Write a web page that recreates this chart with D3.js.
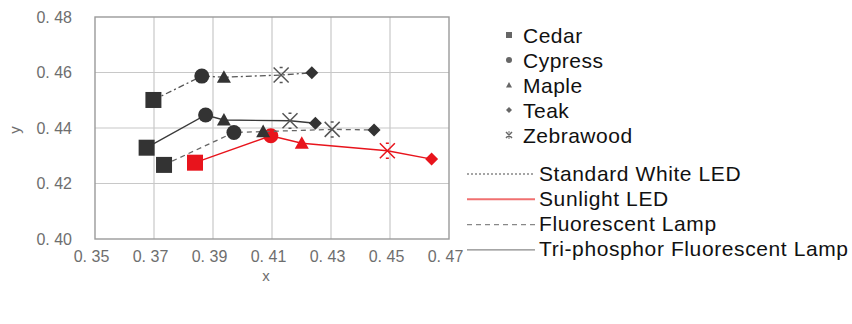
<!DOCTYPE html>
<html>
<head>
<meta charset="utf-8">
<script src="https://cdn.jsdelivr.net/npm/d3@7"></script>
<style>
  html, body { margin: 0; padding: 0; background: #fff; }
  svg { display: block; }
</style>
</head>
<body>
<svg id="chart" width="852" height="324"></svg>
<script>
// Wood species (one marker shape each)
const woods = ["Cedar", "Cypress", "Maple", "Teak", "Zebrawood"];
const woodShapes = ["square", "circle", "triangle", "diamond", "cross"];

// Light sources (one line style each)
const lights = ["Standard White LED", "Sunlight LED", "Fluorescent Lamp", "Tri-phosphor Fluorescent Lamp"];

// Chromaticity x, y per light source, in wood order (Cedar, Cypress, Maple, Teak, Zebrawood)
const standardX = [0.3698, 0.3862, 0.3937, 0.4235, 0.4131];
const standardY = [0.4501, 0.4587, 0.4583, 0.4599, 0.4591];
const sunlightX = [0.3839, 0.4096, 0.4201, 0.4641, 0.4491];
const sunlightY = [0.4275, 0.4372, 0.4345, 0.4288, 0.4318];
const fluorX    = [0.3734, 0.3971, 0.4070, 0.4446, 0.4304];
const fluorY    = [0.4267, 0.4384, 0.4387, 0.4393, 0.4395];
const triX      = [0.3675, 0.3875, 0.3937, 0.4247, 0.4161];
const triY      = [0.4329, 0.4447, 0.4429, 0.4417, 0.4426];

const xTicks = [0.35, 0.37, 0.39, 0.41, 0.43, 0.45, 0.47];
const yTicks = [0.40, 0.42, 0.44, 0.46, 0.48];

const seriesX = [standardX, sunlightX, fluorX, triX];
const seriesY = [standardY, sunlightY, fluorY, triY];
const lineStyles = [
  { color: "#555", width: 1.3, dash: "6,3,2,3", markerFill: "#333" },
  { color: "#e8141c", width: 1.4, dash: null, markerFill: "#e8141c" },
  { color: "#666", width: 1.3, dash: "5,4", markerFill: "#333" },
  { color: "#3a3a3a", width: 1.4, dash: null, markerFill: "#333" }
];

const svg = d3.select("#chart");
const plotLeft = 95, plotRight = 449, plotTop = 17, plotBottom = 239;

const x = d3.scaleLinear().domain([0.35, 0.47]).range([plotLeft, plotRight]);
const y = d3.scaleLinear().domain([0.40, 0.48]).range([plotBottom, plotTop]);

const fmt = v => d3.format(".2f")(v).replace(".", ". ");
const tickFont = "'Liberation Sans', Arial, sans-serif";
const tickColor = "#6e6e6e";

// grid
const grid = svg.append("g");
grid.selectAll("line.vx").data(xTicks.slice(1, -1)).join("line")
  .attr("x1", d => x(d)).attr("x2", d => x(d))
  .attr("y1", plotTop).attr("y2", plotBottom)
  .attr("stroke", "#c8c8c8").attr("stroke-width", 1.2);
grid.selectAll("line.hy").data(yTicks.slice(1, -1)).join("line")
  .attr("x1", plotLeft).attr("x2", plotRight)
  .attr("y1", d => y(d)).attr("y2", d => y(d))
  .attr("stroke", "#c8c8c8").attr("stroke-width", 1.2);

// frame
svg.append("rect")
  .attr("x", plotLeft).attr("y", plotTop)
  .attr("width", plotRight - plotLeft).attr("height", plotBottom - plotTop)
  .attr("fill", "none").attr("stroke", "#9a9a9a").attr("stroke-width", 1.4);

// axes (labels only)
const xAxis = d3.axisBottom(x).tickValues(xTicks).tickFormat(fmt).tickSize(0).tickPadding(12);
const gx = svg.append("g").attr("transform", `translate(-4,${plotBottom})`).call(xAxis);
const yAxis = d3.axisLeft(y).tickValues(yTicks).tickFormat(fmt).tickSize(0).tickPadding(23);
const gy = svg.append("g").attr("transform", `translate(${plotLeft},0)`).call(yAxis);
[gx, gy].forEach(g => {
  g.select(".domain").remove();
  g.selectAll("text")
    .attr("fill", tickColor)
    .style("font-family", tickFont)
    .style("font-size", "16px");
});

svg.append("text")
  .attr("x", 266).attr("y", 281)
  .attr("text-anchor", "middle")
  .attr("fill", tickColor)
  .style("font-family", tickFont)
  .style("font-size", "15px")
  .text("x");
svg.append("text")
  .attr("transform", `translate(20,130) rotate(-90)`)
  .attr("text-anchor", "middle")
  .attr("fill", tickColor)
  .style("font-family", tickFont)
  .style("font-size", "15px")
  .text("y");

// marker drawing
function drawMarker(g, shape, cx, cy, size, fill) {
  const s = size;
  if (shape === "square") {
    g.append("rect").attr("x", cx - s / 2).attr("y", cy - s / 2)
      .attr("width", s).attr("height", s).attr("fill", fill);
  } else if (shape === "circle") {
    g.append("circle").attr("cx", cx).attr("cy", cy).attr("r", s / 2).attr("fill", fill);
  } else if (shape === "triangle") {
    g.append("path")
      .attr("d", `M${cx},${cy - s * 0.5}L${cx + s * 0.5},${cy + s * 0.4}L${cx - s * 0.5},${cy + s * 0.4}Z`)
      .attr("fill", fill);
  } else if (shape === "diamond") {
    const h = s * 0.5;
    g.append("path")
      .attr("d", `M${cx},${cy - h}L${cx + h},${cy}L${cx},${cy + h}L${cx - h},${cy}Z`)
      .attr("fill", fill);
  } else if (shape === "cross") {
    const h = s * 0.5;
    g.append("path")
      .attr("d", `M${cx - h},${cy - h}L${cx + h},${cy + h}M${cx - h},${cy + h}L${cx + h},${cy - h}` +
                 `M${cx - h * 0.2},${cy - h}L${cx + h * 0.2},${cy - h}M${cx - h * 0.2},${cy + h}L${cx + h * 0.2},${cy + h}`)
      .attr("fill", "none").attr("stroke", fill === "#333" ? "#555" : fill).attr("stroke-width", 1.5);
  }
}

const markerSizes = { square: 16, circle: 15, triangle: 14, diamond: 13, cross: 15 };

const line = d3.line().x(d => x(d[0])).y(d => y(d[1]));

seriesX.forEach((xs, i) => {
  const st = lineStyles[i];
  const pts = xs.map((v, j) => [v, seriesY[i][j], woodShapes[j]]);
  // the curve runs left to right through the samples
  const ordered = pts.slice().sort((a, b) => a[0] - b[0]);
  const g = svg.append("g");
  g.append("path").datum(ordered)
    .attr("d", line)
    .attr("fill", "none")
    .attr("stroke", st.color)
    .attr("stroke-width", st.width)
    .attr("stroke-dasharray", st.dash);
  pts.forEach(p => {
    drawMarker(g, p[2], x(p[0]), y(p[1]), markerSizes[p[2]], st.markerFill);
  });
});

// legend: woods
const legendFont = "'Liberation Sans', Arial, sans-serif";
const lw = svg.append("g");
woods.forEach((w, i) => {
  const cy = 35 + i * 25;
  drawMarker(lw, woodShapes[i], 509, cy, 6, "#666");
  lw.append("text").attr("x", 523).attr("y", cy + 7.5)
    .style("font-family", legendFont).style("font-size", "21px")
    .style("letter-spacing", "0.5px")
    .attr("fill", "#111").text(w);
});

// legend: light sources
const ll = svg.append("g");
lights.forEach((l, i) => {
  const cy = 174 + i * 25.3;
  ll.append("line").attr("x1", 467).attr("x2", 535).attr("y1", cy).attr("y2", cy)
    .attr("stroke", i === 1 ? "#f07070" : "#888")
    .attr("stroke-width", i === 1 ? 2 : 1.4)
    .attr("stroke-dasharray", i === 0 ? "2,2" : (i === 2 ? "5,4" : null));
  ll.append("text").attr("x", 539).attr("y", cy + 6.5)
    .style("font-family", legendFont).style("font-size", "21px")
    .style("letter-spacing", "0.6px")
    .attr("fill", "#111").text(l);
});
</script>
</body>
</html>
